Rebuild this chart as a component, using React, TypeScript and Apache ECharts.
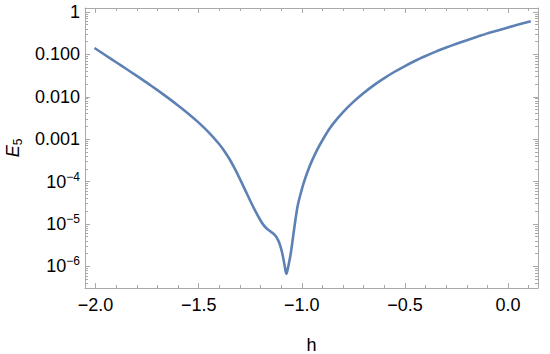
import React, { useEffect, useRef } from "react";
import * as echarts from "echarts";

// h values (x) and log10(E5) values
const hValues = [
  -2.005, -1.95, -1.9, -1.85, -1.8, -1.75, -1.7, -1.65, -1.6, -1.55, -1.5, -1.45, -1.4,
  -1.375, -1.35, -1.325, -1.3, -1.275, -1.25, -1.225, -1.2, -1.185, -1.17, -1.155, -1.14,
  -1.125, -1.115, -1.105, -1.095, -1.088, -1.082, -1.077, -1.074, -1.07, -1.065, -1.06,
  -1.053, -1.045, -1.0375, -1.03, -1.02, -1.007, -0.99, -0.97, -0.95, -0.925, -0.9, -0.87,
  -0.845, -0.8, -0.75, -0.7, -0.65, -0.6, -0.55, -0.5, -0.45, -0.4, -0.35, -0.3, -0.25,
  -0.2, -0.15, -0.1, -0.05, 0.0, 0.05, 0.11,
];
const e5Log10 = [
  -0.85, -1.026, -1.186, -1.346, -1.508, -1.673, -1.843, -2.02, -2.205, -2.4, -2.61, -2.845, -3.12,
  -3.283, -3.473, -3.693, -3.938, -4.195, -4.453, -4.698, -4.918, -5.028, -5.107, -5.167, -5.221,
  -5.296, -5.381, -5.506, -5.686, -5.854, -6.016, -6.146, -6.176, -6.1, -5.99, -5.87,
  -5.68, -5.4, -5.13, -4.87, -4.57, -4.31, -4.02, -3.74, -3.5, -3.245, -3.025, -2.785,
  -2.615, -2.36, -2.12, -1.91, -1.725, -1.56, -1.41, -1.275, -1.15, -1.04, -0.935, -0.84, -0.75,
  -0.665, -0.585, -0.505, -0.435, -0.365, -0.297, -0.218,
];

const xMajorTicks = [-2.0, -1.5, -1.0, -0.5, 0.0];
const xMinorTicks = [
  -1.9, -1.8, -1.7, -1.6, -1.4, -1.3, -1.2, -1.1, -0.9, -0.8, -0.7, -0.6, -0.4, -0.3, -0.2,
  -0.1, 0.1,
];
const yMajorTicks = [1e-6, 1e-5, 1e-4, 1e-3, 1e-2, 1e-1, 1];
const yMinorMantissas = [2, 3, 4, 5, 6, 7, 8, 9];
const yMinorDecades = [1e-7, 1e-6, 1e-5, 1e-4, 1e-3, 1e-2, 1e-1];

const X_MIN = -2.051;
const X_MAX = 0.145;
const Y_MIN = 3.09e-7;
const Y_MAX = 1.24;

const FRAME = "#a9a9a9";
const LINE = "#5e81b5";
const FONT = "Liberation Sans, Arial, sans-serif";

export default function App() {
  const ref = useRef<HTMLDivElement>(null);

  useEffect(() => {
    document.body.style.margin = "0";
    if (!ref.current) return;
    const chart = echarts.init(ref.current, undefined, { renderer: "svg" });

    const yMinorTicks: number[] = [];
    yMinorDecades.forEach((d) =>
      yMinorMantissas.forEach((m) => {
        const v = m * d;
        if (v >= Y_MIN && v <= Y_MAX) yMinorTicks.push(v);
      })
    );

    const xLabel = (v: number) => {
      const s = Math.abs(v).toFixed(1);
      return v < -1e-9 ? "\u2212" + s : s;
    };
    const yLabel = (v: number) => {
      if (v >= 0.9) return "1";
      if (v >= 0.00099) return v.toFixed(3);
      const e = Math.round(Math.log10(v));
      return "{b|10}{s|\u2212" + Math.abs(e) + "}";
    };

    const grid = {
      left: 85,
      right: 12,
      top: 8,
      bottom: 66,
      containLabel: false,
      outerBoundsMode: "none",
    };

    const xBase = (gridIndex: number, position: string, ticks: number[], len: number, showLine: boolean) => ({
      type: "value",
      gridIndex,
      position,
      min: X_MIN,
      max: X_MAX,
      axisLine: { show: showLine, onZero: false, lineStyle: { color: FRAME, width: 1 } },
      axisTick: { show: true, inside: true, length: len, customValues: ticks, lineStyle: { color: FRAME, width: 1 } },
      axisLabel: { show: false },
      splitLine: { show: false },
    });
    const yBase = (gridIndex: number, position: string, ticks: number[], len: number, showLine: boolean) => ({
      type: "log",
      logBase: 10,
      gridIndex,
      position,
      min: Y_MIN,
      max: Y_MAX,
      axisLine: { show: showLine, onZero: false, lineStyle: { color: FRAME, width: 1 } },
      axisTick: { show: true, inside: true, length: len, customValues: ticks, lineStyle: { color: FRAME, width: 1 } },
      axisLabel: { show: false },
      splitLine: { show: false },
    });

    const xBottom: any = xBase(0, "bottom", xMajorTicks, 5, true);
    xBottom.axisLabel = {
      show: true,
      customValues: xMajorTicks,
      formatter: xLabel,
      margin: 8,
      color: "#000",
      fontSize: 18,
      fontFamily: FONT,
    };
    xBottom.name = "h";
    xBottom.nameLocation = "middle";
    xBottom.nameGap = 48;
    xBottom.nameTextStyle = { color: "#000", fontSize: 18, fontFamily: FONT, verticalAlign: "top" };

    const yLeft: any = yBase(0, "left", yMajorTicks, 5, true);
    yLeft.axisLabel = {
      show: true,
      customValues: yMajorTicks,
      formatter: yLabel,
      margin: 5,
      color: "#000",
      fontSize: 18,
      fontFamily: FONT,
      rich: {
        b: { fontSize: 18, fontFamily: FONT, color: "#000", lineHeight: 22 },
        s: { fontSize: 12, fontFamily: FONT, color: "#000", verticalAlign: "top", lineHeight: 12 },
      },
    };
    yLeft.name = "{i|E}{sub|5}";
    yLeft.nameLocation = "middle";
    yLeft.nameGap = 61;
    yLeft.nameRotate = 90;
    yLeft.nameTextStyle = {
      rich: {
        i: { fontSize: 18, fontStyle: "italic", fontFamily: FONT, color: "#000", lineHeight: 22 },
        sub: { fontSize: 12, fontFamily: FONT, color: "#000", verticalAlign: "bottom", lineHeight: 12 },
      },
    };

    const option: any = {
      animation: false,
      backgroundColor: "#fff",
      grid: [grid, grid],
      xAxis: [
        xBottom,
        xBase(0, "top", xMajorTicks, 5, true),
        xBase(1, "bottom", xMinorTicks, 3, false),
        xBase(1, "top", xMinorTicks, 3, false),
      ],
      yAxis: [
        yLeft,
        yBase(0, "right", yMajorTicks, 5, true),
        yBase(1, "left", yMinorTicks, 3, false),
        yBase(1, "right", yMinorTicks, 3, false),
      ],
      series: [
        {
          type: "line",
          xAxisIndex: 0,
          yAxisIndex: 0,
          data: hValues.map((h, i) => [h, Math.pow(10, e5Log10[i])]),
          showSymbol: false,
          smooth: 0.25,
          lineStyle: { color: LINE, width: 2.6 },
          clip: true,
        },
      ],
    };
    chart.setOption(option);
    return () => chart.dispose();
  }, []);

  return <div ref={ref} style={{ width: 550, height: 354 }} />;
}
